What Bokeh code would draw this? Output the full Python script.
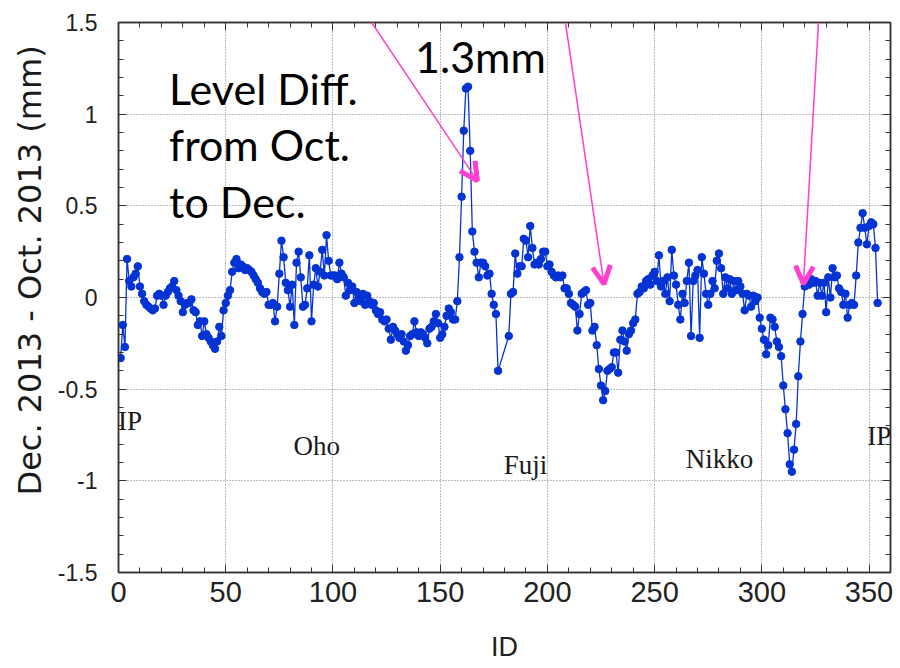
import math
from bokeh.plotting import figure
from bokeh.models import (Range1d, LinearAxis, SingleIntervalTicker, NumeralTickFormatter,
                          Label, Arrow, OpenHead, BoxAnnotation, Title)
from bokeh.core.properties import value
from bokeh.embed import file_html
from bokeh.resources import INLINE

# ---------------- data ----------------
ids_a = list(range(1, 178))
vals_a = [
    -0.33, -0.15, -0.27, 0.21, 0.09, 0.06, 0.11, 0.13, 0.17, 0.06,
    0.02, -0.02, -0.04, -0.05, -0.06, -0.07, -0.06, 0.01, 0.02, 0.01,
    -0.04, 0.01, 0.03, 0.05, 0.06, 0.09, 0.04, 0.01, -0.02, -0.08,
    -0.04, -0.03, -0.03, -0.01, -0.07, -0.08, -0.15, -0.13, -0.21, -0.13,
    -0.20, -0.22, -0.24, -0.26, -0.28, -0.24, -0.16, -0.21, -0.07, -0.03,
    0.01, 0.04, 0.14, 0.19, 0.21, 0.16, 0.18, 0.17, 0.15, 0.16,
    0.15, 0.14, 0.12, 0.10, 0.08, 0.05, 0.03, 0.02, 0.03, -0.04,
    -0.04, -0.03, -0.13, -0.05, 0.13, 0.31, 0.22, 0.08, 0.04, -0.05,
    0.07, -0.15, 0.19, 0.25, 0.11, -0.05, -0.04, 0.05, 0.23, -0.13,
    0.07, 0.16, 0.06, 0.14, 0.26, 0.12, 0.34, 0.20, 0.12, 0.12,
    0.12, 0.10, 0.19, 0.13, 0.11, 0.01, 0.08, 0.04, 0.06, -0.03,
    0.03, 0.00, -0.02, 0.02, -0.04, 0.01, -0.02, -0.04, -0.03, -0.07,
    -0.09, -0.08, -0.12, -0.13, -0.12, -0.17, -0.23, -0.16, -0.18, -0.20,
    -0.22, -0.20, -0.24, -0.29, -0.26, -0.21, -0.20, -0.13, -0.19, -0.21,
    -0.19, -0.20, -0.22, -0.25, -0.17, -0.16, -0.13, -0.09, -0.14, -0.22,
    -0.20, -0.16, -0.10, -0.06, -0.08, -0.12, -0.12, -0.02, 0.22, 0.55,
    0.91, 1.14, 1.15, 0.80, 0.36, 0.25, 0.19, 0.11, 0.19, 0.19,
    0.17, 0.12, 0.13, 0.02, -0.04, -0.09, -0.40,
]
ids_b = list(range(182, 355))
vals_b = [
    -0.21, 0.02, 0.03, 0.24, 0.13, 0.17, 0.17, 0.32, 0.31,
    0.22, 0.39, 0.27, 0.18, 0.19, 0.18, 0.21, 0.25, 0.25, 0.17,
    0.18, 0.14, 0.12, 0.11, 0.12, 0.11, 0.12, 0.05, 0.05, 0.02,
    -0.03, -0.04, -0.05, -0.18, -0.09, 0.02, 0.03, 0.04, -0.04, -0.03,
    -0.18, -0.16, -0.26, -0.39, -0.48, -0.56, -0.51, -0.40, -0.39, -0.38,
    -0.30, -0.30, -0.41, -0.23, -0.18, -0.24, -0.29, -0.20, -0.18, -0.14,
    -0.12, 0.02, 0.03, 0.06, 0.05, 0.09, 0.10, 0.07, 0.12, 0.14,
    0.09, 0.23, 0.06, 0.09, 0.02, 0.11, -0.02, 0.26, 0.12, 0.07,
    -0.04, -0.12, 0.02, -0.03, 0.09, 0.19, -0.21, 0.09, 0.12, 0.15,
    -0.22, 0.22, 0.13, 0.02, -0.04, 0.02, 0.09, 0.05, 0.20, 0.24,
    0.16, 0.02, 0.11, 0.05, 0.10, 0.02, 0.09, 0.04, 0.09, 0.06,
    0.02, -0.07, 0.02, 0.01, -0.05, 0.01, -0.02, 0.00, -0.11, -0.17,
    -0.23, -0.31, -0.26, -0.11, -0.12, -0.16, -0.24, -0.27, -0.32, -0.48,
    -0.61, -0.74, -0.91, -0.95, -0.83, -0.69, -0.43, -0.24, -0.09, 0.06,
    0.08, 0.07, 0.10, 0.08, 0.09, 0.01, 0.08, 0.01, 0.08, -0.08,
    0.11, 0.00, 0.16, 0.11, 0.12, 0.05, 0.03, -0.04, 0.02, -0.11,
    -0.04, -0.03, -0.04, 0.12, 0.30, 0.38, 0.46, 0.38, 0.29, 0.39,
    0.41, 0.40, 0.27, -0.03,
]
ids = ids_a + ids_b
vals = vals_a + vals_b

region_names = ["IP", "Oho", "Fuji", "Nikko", "IP"]
region_x = [-0.2, 81.6, 179.7, 264.5, 349.2]
region_y = [-0.672, -0.808, -0.911, -0.882, -0.753]

x_title = "ID"
y_title = "Dec. 2013 - Oct. 2013 (mm)"

# ---------------- figure ----------------
BLUE = "#0433d4"
MAG = "#ff3fd0"
AX = "#333333"

p = figure(width=900, height=668, output_backend="svg", toolbar_location=None,
           x_range=Range1d(0, 360), y_range=Range1d(-1.5, 1.5),
           min_border_left=118, min_border_right=10, min_border_top=22,
           min_border_bottom=96)
p.background_fill_color = "white"
p.border_fill_color = "white"
p.outline_line_color = AX
p.outline_line_width = 1.5

xt = SingleIntervalTicker(interval=50, num_minor_ticks=5)
yt = SingleIntervalTicker(interval=0.5, num_minor_ticks=5)


def style_axis(ax, ticker):
    ax.ticker = ticker
    ax.axis_line_color = AX
    ax.axis_line_width = 1.5
    ax.major_tick_in = 8
    ax.major_tick_out = 0
    ax.minor_tick_in = 5
    ax.minor_tick_out = 0
    ax.major_tick_line_color = AX
    ax.minor_tick_line_color = AX


xa = p.xaxis[0]
style_axis(xa, xt)
xa.major_label_text_font = "Liberation Sans"
xa.major_label_text_font_size = "29px"
xa.major_label_text_color = "#222222"
xa.major_label_standoff = 9
xa.axis_label = x_title
xa.axis_label_text_font = "Liberation Sans"
xa.axis_label_text_font_size = "27px"
xa.axis_label_text_font_style = "normal"
xa.axis_label_text_color = "#222222"
xa.axis_label_standoff = 27

ya = p.yaxis[0]
style_axis(ya, yt)
ya.formatter = NumeralTickFormatter(format="0.[0]")
ya.major_label_text_font = "Liberation Sans"
ya.major_label_text_font_size = "23px"
ya.major_label_text_color = "#222222"
ya.major_label_standoff = 21

# mirrored tick marks on top and right (no labels drawn)
top = LinearAxis(major_label_text_font_size="1px", major_label_text_color=None,
                 major_label_standoff=0)
style_axis(top, SingleIntervalTicker(interval=50, num_minor_ticks=5))
p.add_layout(top, "above")
right = LinearAxis(major_label_text_font_size="1px", major_label_text_color=None,
                   major_label_standoff=0)
style_axis(right, SingleIntervalTicker(interval=0.5, num_minor_ticks=5))
p.add_layout(right, "right")

# y title
p.add_layout(Title(text=y_title, align="left", offset=77, standoff=12,
                   text_font="DejaVu Sans", text_font_size="32px",
                   text_font_style="normal", text_color="#1a1a1a"), "left")

p.xgrid.ticker = xt
p.ygrid.ticker = yt
for g in (p.xgrid[0], p.ygrid[0]):
    g.grid_line_color = "#7a7a7a"
    g.grid_line_dash = "1 2"
    g.grid_line_width = 1

# data
p.line(ids, vals, line_color=BLUE, line_width=1.3)
p.scatter(ids, vals, size=7.5, fill_color=BLUE, line_color=BLUE)

# region names
p.text(x=region_x, y=region_y, text=region_names,
       text_font=value("Liberation Serif"), text_font_size=value("27px"),
       text_align="left", text_baseline="alphabetic", text_color="#1a1a1a")

# big annotations
for txt, xx, yy in [("1.3mm", 138.3, 1.315), ("Level Diff.", 23.6, 1.142),
                    ("from Oct.", 23.6, 0.837), ("to Dec.", 23.6, 0.524)]:
    p.add_layout(Label(x=xx, y=yy, text=txt, text_font="Lato",
                       text_font_size="43px", text_color="black",
                       text_align="left", text_baseline="alphabetic"))

# magenta box and arrows
p.add_layout(BoxAnnotation(left=15.25, right=167.8, bottom=1.59, top=1.75,
                           fill_alpha=0, line_color=MAG, line_width=2))
for xs, ys, xe, ye in [(112.9, 1.59, 167.4, 0.636),
                       (206.9, 1.62, 226.4, 0.073),
                       (327.0, 1.62, 319.4, 0.073)]:
    p.add_layout(Arrow(x_start=xs, y_start=ys, x_end=xe, y_end=ye,
                       line_color=MAG, line_width=1.5,
                       end=OpenHead(size=18, line_color=MAG, line_width=5)))

open("out.html", "w").write(file_html(p, INLINE))
